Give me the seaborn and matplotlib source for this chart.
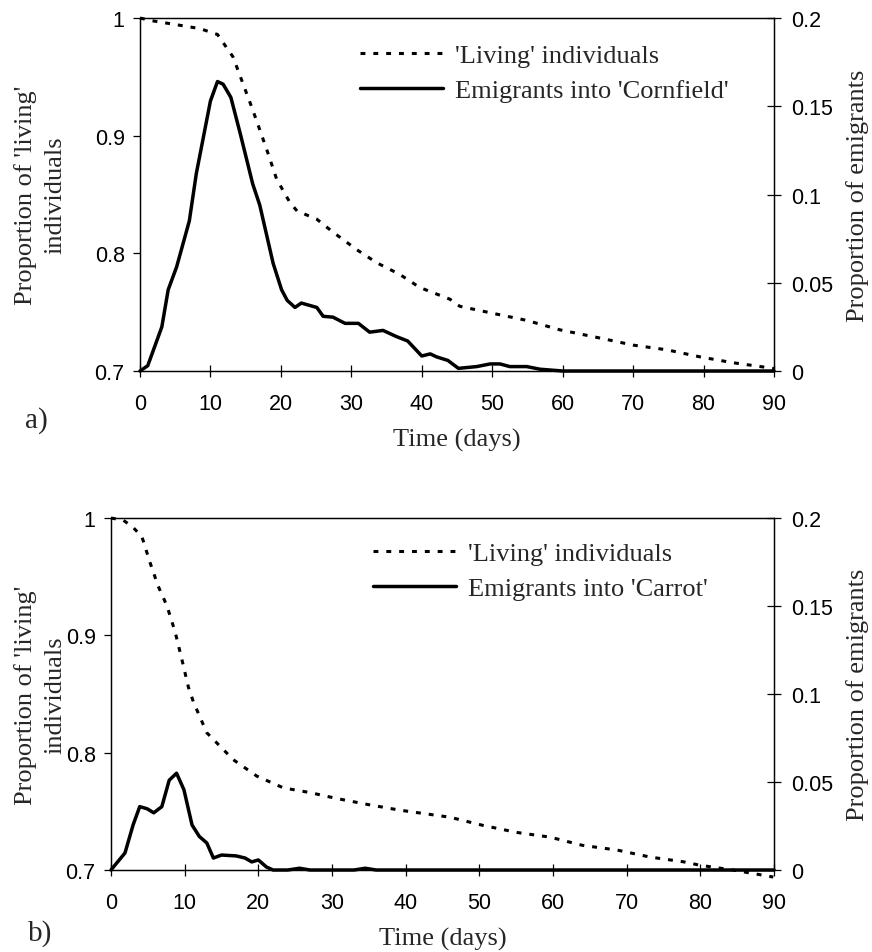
import numpy as np
import pandas as pd
import seaborn as sns
import matplotlib.pyplot as plt

# values
# panel a) - 'Cornfield'
days_live_a = [0, 1.4, 8.5, 11, 13.2, 16, 18, 19.4, 21.3, 22.3, 25.1, 27.4, 30.8, 33.6,
               36.9, 39.7, 44, 45.4, 50.1, 54.9, 59.6, 65.3, 70, 74.8, 79.5, 84.2, 89, 90]
live_a = [1.0, 0.998, 0.991, 0.986, 0.967, 0.922, 0.888, 0.863, 0.843, 0.836, 0.829, 0.818,
          0.803, 0.792, 0.782, 0.771, 0.761, 0.755, 0.749, 0.743, 0.735, 0.728, 0.722,
          0.718, 0.712, 0.707, 0.703, 0.702]

days_emig_a = [0, 1.1, 3.1, 4, 5.2, 7, 8, 10, 11, 11.8, 12.9, 14.2, 16, 17, 18.9, 20.1,
               20.9, 22, 22.9, 25.1, 26, 27.4, 29.1, 31, 32.6, 34.5, 36.4, 38, 40, 41.2,
               42.1, 43.7, 45.2, 47.8, 49.7, 51.1, 52.5, 54.9, 56.8, 60, 90]
emig_a = [0, 0.003, 0.025, 0.046, 0.059, 0.085, 0.112, 0.153, 0.164, 0.1625, 0.155, 0.135,
          0.106, 0.094, 0.061, 0.046, 0.040, 0.036, 0.0385, 0.036, 0.031, 0.0305, 0.027,
          0.027, 0.022, 0.023, 0.0195, 0.017, 0.0085, 0.0097, 0.008, 0.006, 0.0015,
          0.0025, 0.004, 0.004, 0.0025, 0.0025, 0.001, 0, 0]

# panel b) - 'Carrot'
days_live_b = [0, 1.7, 3, 4.2, 5.3, 6.4, 7.6, 8.7, 9.6, 10.5, 11.2, 13, 16.6, 19.8, 23.4,
               27, 30.6, 34.7, 39.2, 46, 50.5, 55.1, 59.6, 64, 68.7, 73.2, 77.7, 80, 84.4,
               88.1, 89.9]
live_b = [1.0, 0.998, 0.992, 0.984, 0.962, 0.942, 0.925, 0.903, 0.880, 0.856, 0.843, 0.817,
          0.794, 0.780, 0.770, 0.766, 0.761, 0.756, 0.751, 0.745, 0.738, 0.732, 0.728,
          0.721, 0.717, 0.711, 0.707, 0.704, 0.700, 0.696, 0.694]

days_emig_b = [0, 1.9, 3, 3.9, 4.9, 5.8, 6.9, 7.9, 8.9, 9.9, 11, 12, 13, 13.9, 15, 17, 18.2,
               19.1, 20, 21.1, 22, 24, 25.6, 27, 33, 34.5, 36, 90]
emig_b = [0, 0.0097, 0.0256, 0.036, 0.0348, 0.0325, 0.036, 0.051, 0.055, 0.0456, 0.0256,
          0.019, 0.0154, 0.0068, 0.0085, 0.008, 0.0068, 0.0046, 0.0057, 0.0017, 0, 0,
          0.001, 0, 0, 0.001, 0, 0]

x_ticks = [0, 10, 20, 30, 40, 50, 60, 70, 80, 90]
left_ticks = [0.7, 0.8, 0.9, 1.0]
left_labels = ["0.7", "0.8", "0.9", "1"]
right_ticks = [0, 0.05, 0.1, 0.15, 0.2]
right_labels = ["0", "0.05", "0.1", "0.15", "0.2"]

sns.set_style("ticks")
plt.rcParams['font.family'] = ['Liberation Sans', 'DejaVu Sans']
serif = ['Liberation Serif', 'DejaVu Serif']

W, H = 872, 953
fig = plt.figure(figsize=(W / 100, H / 100), dpi=100)

dot_style = (0, (1.6, 2.6))
LW = 2.2
TXT = 19      # serif text size
TICK = 15.5   # tick label size


def panel(rect, d_live, v_live, d_emig, v_emig, emig_name, tag, tag_xy,
          ylab_x, leg_anchor):
    ax = fig.add_axes(rect)
    ax2 = ax.twinx()

    sns.lineplot(x=d_live, y=v_live, ax=ax, color='black', lw=LW,
                 linestyle=dot_style, label="'Living' individuals", clip_on=False,
                 legend=False)
    sns.lineplot(x=d_emig, y=v_emig, ax=ax2, color='black', lw=LW + 0.3,
                 label=f"Emigrants into '{emig_name}'", clip_on=False, legend=False)

    ax.set_xlim(0, 90)
    ax.set_ylim(0.7, 1.0)
    ax2.set_ylim(0, 0.2)
    ax.set_xticks(x_ticks)
    ax.set_yticks(left_ticks, left_labels)
    ax2.set_yticks(right_ticks, right_labels)

    for a in (ax, ax2):
        for s in a.spines.values():
            s.set_linewidth(0.9)
            s.set_color('black')
        a.spines['top'].set_visible(True)
        a.spines['right'].set_visible(True)

    ax.tick_params(axis='x', direction='inout', length=9, width=0.9,
                   labelsize=TICK, pad=11, colors='black')
    ax.tick_params(axis='y', direction='out', length=5, width=0.9,
                   labelsize=TICK, pad=6, colors='black')
    ax2.tick_params(axis='y', direction='inout', length=10, width=0.9,
                    labelsize=TICK, pad=7, colors='black')

    ax.set_xlabel('Time (days)', family=serif, fontsize=TXT, labelpad=10)
    ax.set_ylabel('')
    ax2.set_ylabel('')

    # axis titles placed like in the scan
    cy = rect[1] + rect[3] / 2
    fig.text(ylab_x, cy, "Proportion of 'living'\nindividuals", family=serif,
             fontsize=TXT, rotation=90, ha='center', va='center',
             multialignment='center', linespacing=1.45)
    fig.text(858 / W, cy, "Proportion of emigrants", family=serif,
             fontsize=TXT, rotation=90, ha='center', va='center')
    fig.text(tag_xy[0] / W, 1 - tag_xy[1] / H, tag, family=serif, fontsize=21,
             ha='center', va='center')

    handles = ax.get_lines()[:1] + ax2.get_lines()[:1]
    labels = [h.get_label() for h in handles]
    ax.legend(handles, labels, loc='center left', bbox_to_anchor=leg_anchor,
              frameon=False, borderpad=0, borderaxespad=0, handlelength=3.15,
              handletextpad=0.45, labelspacing=0.43,
              prop={'family': serif, 'size': TXT})
    return ax, ax2


panel([140 / W, 1 - 372 / H, 634 / W, 353 / H], days_live_a, live_a,
      days_emig_a, emig_a, 'Cornfield', 'a)', (36, 421), 40 / W, (0.347, 0.844))
panel([111 / W, 1 - 871 / H, 663 / W, 352 / H], days_live_b, live_b,
      days_emig_b, emig_b, 'Carrot', 'b)', (40, 934), 40 / W, (0.395, 0.849))

fig.savefig('out.png', dpi=100)
